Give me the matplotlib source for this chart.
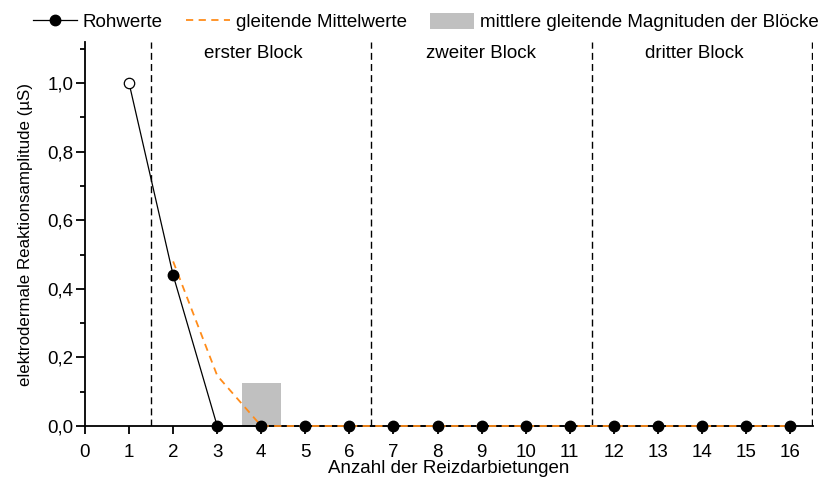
import numpy as np
import matplotlib.pyplot as plt
from matplotlib.lines import Line2D
from matplotlib.patches import Patch
from matplotlib.ticker import MultipleLocator, FuncFormatter

plt.rcParams['font.family'] = ['Liberation Sans', 'DejaVu Sans']
plt.rcParams['font.size'] = 13.5

# Reizdarbietungen und Rohwerte
trials = np.arange(1, 17)
raw = [1.0, 0.44, 0, 0, 0, 0, 0, 0, 0, 0, 0, 0, 0, 0, 0, 0]

# gleitende Mittelwerte (ab Reiz 2)
ma_trials = np.arange(2, 17)
moving_avg = [0.48, 0.147, 0, 0, 0, 0, 0, 0, 0, 0, 0, 0, 0, 0, 0]

# mittlere gleitende Magnitude je Block
block_pos = [4]
block_mag = [0.125]

block_bounds = [1.5, 6.5, 11.5, 16.5]
block_labels = ["erster Block", "zweiter Block", "dritter Block"]
block_label_x = [3.82, 8.99, 13.83]

orange = '#ff8c1a'
fs = 13.5

fig = plt.figure(figsize=(8.19, 4.8), dpi=100)
ax = fig.add_axes([85/819, 54/480, 728/819, 384/480])

ax.bar(block_pos, block_mag, width=0.88, color='#c0c0c0', zorder=1)

for b in block_bounds:
    ax.axvline(b, color='black', lw=1, ls=(0, (5, 3)), zorder=2)

ax.plot(trials, raw, color='black', lw=0.9, zorder=3, clip_on=False)
ax.plot(trials[1:], raw[1:], 'o', color='black', ms=7.5, zorder=5, clip_on=False)
ax.plot(trials[:1], raw[:1], 'o', mfc='white', mec='black', mew=0.9, ms=7.5, zorder=5, clip_on=False)
ax.plot(ma_trials, moving_avg, color=orange, lw=1.3, ls=(0, (4, 3)), zorder=4, clip_on=False)

for x, lab in zip(block_label_x, block_labels):
    ax.text(x, 1.085, lab, ha='center', va='center', fontsize=fs)

ax.set_xlim(0, 16.52)
ax.set_ylim(0, 1.12)
ax.xaxis.set_major_locator(MultipleLocator(1))
ax.yaxis.set_major_locator(MultipleLocator(0.2))
ax.yaxis.set_minor_locator(MultipleLocator(0.1))
ax.yaxis.set_major_formatter(FuncFormatter(lambda v, p: f"{v:.1f}".replace('.', ',')))

for s in ['top', 'right']:
    ax.spines[s].set_visible(False)
ax.spines['left'].set_linewidth(1.3)
ax.spines['bottom'].set_linewidth(1.3)
ax.tick_params(axis='x', which='major', direction='out', length=6, width=1.3, pad=7, labelsize=fs)
ax.tick_params(axis='y', which='major', direction='out', length=6.5, width=1.3, pad=2, labelsize=fs)
ax.tick_params(axis='y', which='minor', direction='out', length=3.5, width=1.3)

ax.set_xlabel("Anzahl der Reizdarbietungen", fontsize=fs, labelpad=-1)
ax.set_ylabel("elektrodermale Reaktionsamplitude (µS)", fontsize=12.2, labelpad=10)

handles = [
    Line2D([], [], color='black', lw=0.9, marker='o', ms=7.5),
    Line2D([], [], color=orange, lw=1.3, ls=(0, (4, 3))),
    Patch(facecolor='#c0c0c0', edgecolor='none'),
]
labels = ["Rohwerte", "gleitende Mittelwerte", "mittlere gleitende Magnituden der Blöcke"]
fig.legend(handles, labels, loc='center left', bbox_to_anchor=(33/819, 1 - 22/480), ncol=3,
           frameon=False, fontsize=fs, handlelength=2.35, handleheight=1.0,
           handletextpad=0.3, columnspacing=1.25, borderpad=0, borderaxespad=0)

fig.savefig('out.png', dpi=100)
